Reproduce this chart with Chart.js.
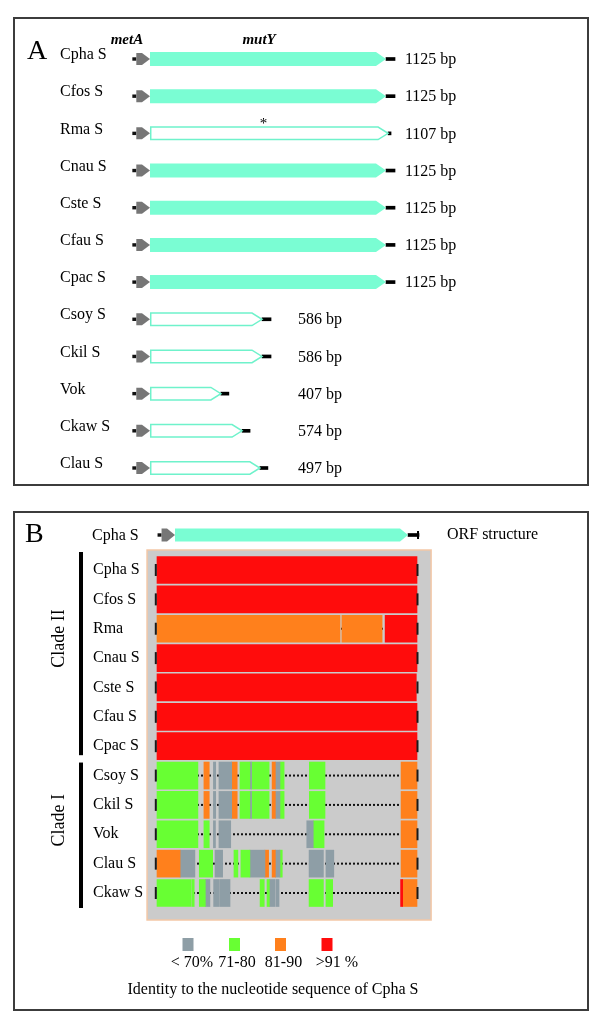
<!DOCTYPE html>
<html>
<head>
<meta charset="utf-8">
<script src="https://cdn.jsdelivr.net/npm/chart.js@4.4.1/dist/chart.umd.min.js"></script>
<style>
  html, body { margin: 0; padding: 0; background: #fff; }
  #page { position: relative; width: 600px; height: 1023px; overflow: hidden; }
  .panel { position: absolute; border: 2px solid #3c3c3c; box-sizing: border-box; }
  #panelA { left: 13px; top: 17px; width: 576px; height: 469px; }
  #panelB { left: 13px; top: 511px; width: 576px; height: 500px; }
  canvas { position: absolute; left: 0; top: 0; }
</style>
</head>
<body>
<div id="page">
  <div class="panel" id="panelA"></div>
  <div class="panel" id="panelB"></div>
  <canvas id="chartA" width="600" height="1023"></canvas>
  <canvas id="chartOrf" width="600" height="1023"></canvas>
  <canvas id="chartB" width="600" height="1023"></canvas>
</div>
<script>
/* --------------- Panel A : ORF map  --------------------- */
const rowsA = ['Cpha S', 'Cfos S', 'Rma S', 'Cnau S', 'Cste S', 'Cfau S', 'Cpac S', 'Csoy S', 'Ckil S', 'Vok', 'Ckaw S', 'Clau S'];
const mutYEnd = [1125, 1125, 1135, 1125, 1125, 1125, 1125, 534, 534, 338, 439, 524];
const tailLength = [43, 43, 14, 43, 43, 43, 43, 43, 43, 38, 38, 38];
const bpLabels = ['1125 bp', '1125 bp', '1107 bp', '1125 bp', '1125 bp', '1125 bp', '1125 bp', '586 bp', '586 bp', '407 bp', '574 bp', '497 bp'];
const mutYComplete = [true, true, false, true, true, true, true, false, false, false, false, false];
const metAStart = -65;
const stopMark = 541; // the * on Rma S

/* --------------- Panel B : ORF structure row  --------------------- */
const orfRow = ['Cpha S'];
const orfEnd = [1125];
const orfTail = [53];

/* --------------- Panel B : identity blocks [start, end, class]  --------------------- */
const rowsB = ['Cpha S', 'Cfos S', 'Rma', 'Cnau S', 'Cste S', 'Cfau S', 'Cpac S', 'Csoy S', 'Ckil S', 'Vok', 'Clau S', 'Ckaw S'];
const identityClasses = ['< 70%', '71-80', '81-90', '>91 %'];
const identityColors = ['#8e9ea6', '#68ff33', '#ff801c', '#ff0c0c'];

const segCphaS = [[0, 1125, 3]];
const segCfosS = [[0, 1125, 3]];
const segRma = [[0, 792, 2], [800, 974, 2], [987, 1125, 3]];
const segCnauS = [[0, 1125, 3]];
const segCsteS = [[0, 1122, 3]];
const segCfauS = [[0, 1125, 3]];
const segCpacS = [[0, 1125, 3]];
const segCsoyS = [[0, 177, 1], [203, 226, 2], [244, 254, 0], [268, 323, 0], [323, 347, 2], [359, 402, 1], [402, 409, 0], [410, 485, 1], [498, 512, 2], [512, 532, 0], [532, 550, 1], [659, 727, 1], [1056, 1125, 2]];
const segCkilS = [[0, 177, 1], [203, 226, 2], [244, 254, 0], [268, 323, 0], [323, 347, 2], [359, 402, 1], [402, 409, 0], [410, 485, 1], [498, 512, 2], [512, 532, 0], [532, 550, 1], [659, 727, 1], [1056, 1125, 2]];
const segVok = [[0, 177, 1], [203, 226, 1], [244, 253, 0], [268, 319, 0], [648, 676, 0], [676, 723, 1], [1056, 1125, 2]];
const segClauS = [[0, 100, 2], [100, 164, 0], [183, 241, 1], [251, 284, 0], [333, 350, 1], [363, 402, 1], [402, 467, 0], [467, 483, 2], [498, 512, 2], [512, 532, 0], [532, 542, 1], [658, 720, 0], [731, 765, 0], [1056, 1125, 2]];
const segCkawS = [[0, 146, 1], [150, 161, 1], [183, 209, 1], [209, 229, 0], [245, 268, 0], [271, 316, 0], [446, 464, 1], [476, 486, 1], [486, 511, 0], [515, 528, 0], [658, 720, 1], [731, 760, 1], [1054, 1063, 3], [1063, 1125, 2]];
const segRows = [segCphaS, segCfosS, segRma, segCnauS, segCsteS, segCfauS, segCpacS, segCsoyS, segCkilS, segVok, segClauS, segCkawS];

const cladeNames = ['Clade II', 'Clade I'];
const cladeRows = [[0, 6], [7, 11]];

/* --------------- Styles  --------------------- */
const serif = 'Liberation Serif';
const cyan = '#7afdd3';
const cyanLine = '#6ff2cb';
const metAColor = '#767676';
const none = 'rgba(0,0,0,0)';

function arrowPath(ctx, x0, x1, y, h, head) {
    const hx = Math.max(x0, x1 - head);
    ctx.beginPath();
    ctx.moveTo(x0, y - h / 2);
    ctx.lineTo(hx, y - h / 2);
    ctx.lineTo(x1, y);
    ctx.lineTo(hx, y + h / 2);
    ctx.lineTo(x0, y + h / 2);
    ctx.closePath();
}

/* --------------- Gene arrows drawn on the bar elements  --------------------- */
const geneArrows = {
    id: 'geneArrows',
    afterDatasetsDraw(chart) {
        const ctx = chart.ctx;
        ctx.save();
        chart.data.datasets.forEach((ds, d) => {
            if (!ds.gene) return;
            chart.getDatasetMeta(d).data.forEach((bar, i) => {
                const p = bar.getProps(['x', 'y', 'base', 'height'], true);
                const x0 = Math.min(p.x, p.base);
                const x1 = Math.max(p.x, p.base);
                if (ds.gene === 'metA') {
                    ctx.fillStyle = '#111';
                    ctx.fillRect(x0 - 4, p.y - 1.7, 4, 3.4);
                    arrowPath(ctx, x0, x1, p.y, p.height, 8);
                    ctx.fillStyle = metAColor;
                    ctx.fill();
                } else {
                    if (ds.complete[i]) {
                        arrowPath(ctx, x0, x1, p.y, p.height, ds.head);
                        ctx.fillStyle = cyan;
                        ctx.fill();
                    } else {
                        arrowPath(ctx, x0 + 0.75, x1, p.y, p.height - 1.5, ds.head);
                        ctx.fillStyle = '#fff';
                        ctx.fill();
                        ctx.strokeStyle = cyanLine;
                        ctx.lineWidth = 1.5;
                        ctx.stroke();
                    }
                }
            });
        });
        ctx.restore();
    }
};

/* --------------- Panel A texts  --------------------- */
const panelAText = {
    id: 'panelAText',
    afterDraw(chart) {
        const {ctx, scales: {x, y}} = chart;
        ctx.save();
        ctx.fillStyle = '#000';
        ctx.font = '28px "' + serif + '"';
        ctx.textBaseline = 'alphabetic';
        ctx.textAlign = 'left';
        ctx.fillText('A', 27, 59);

        const top = y.getPixelForValue(0) - 19;
        ctx.font = 'italic bold 15px "' + serif + '"';
        ctx.textAlign = 'center';
        ctx.textBaseline = 'middle';
        ctx.fillText('metA', x.getPixelForValue(-110), top);
        ctx.fillText('mutY', x.getPixelForValue(520), top);

        ctx.font = '16px "' + serif + '"';
        ctx.textAlign = 'left';
        bpLabels.forEach((t, i) => {
            const end = mutYEnd[i] + tailLength[i];
            const lx = end > 900 ? x.getPixelForValue(1215) : x.getPixelForValue(705);
            ctx.fillText(t, lx, y.getPixelForValue(i) + 1);
        });

        ctx.font = '15px "' + serif + '"';
        ctx.textAlign = 'center';
        ctx.fillText('*', x.getPixelForValue(stopMark), y.getPixelForValue(2) - 9);
        ctx.restore();
    }
};

let chartA = new Chart(document.getElementById('chartA'), {
    type: 'bar',
    data: {
        labels: rowsA,
        datasets: [
            { gene: 'metA', data: rowsA.map(() => [metAStart, 0]), barThickness: 12, backgroundColor: none, clip: false },
            { gene: 'mutY', head: 10, complete: mutYComplete, data: rowsA.map((r, i) => [0, mutYEnd[i]]), barThickness: 14, backgroundColor: none, clip: false },
            { data: rowsA.map((r, i) => [mutYEnd[i], mutYEnd[i] + tailLength[i]]), barThickness: 3, backgroundColor: '#000', clip: false }
        ]
    },
    options: {
        indexAxis: 'y',
        responsive: false,
        animation: false,
        layout: { padding: { left: 60, top: 59, right: 156.3, bottom: 555 } },
        datasets: { bar: { grouped: false, borderWidth: 0 } },
        plugins: { legend: { display: false }, tooltip: { enabled: false } },
        scales: {
            x: { display: false, min: -100, max: 1400 },
            y: {
                offset: false,
                grid: { display: false },
                border: { display: false },
                ticks: { color: '#000', font: { family: serif, size: 16 }, crossAlign: 'far', labelOffset: -4, padding: 0 },
                afterFit(scale) { scale.width = 69; }
            }
        }
    },
    plugins: [geneArrows, panelAText]
});

/* --------------- Panel B : ORF structure  --------------------- */
const orfText = {
    id: 'orfText',
    afterDraw(chart) {
        const {ctx, scales: {x, y}} = chart;
        const yy = y.getPixelForValue(0);
        const xe = x.getPixelForValue(orfEnd[0] + orfTail[0]);
        ctx.save();
        ctx.fillStyle = '#000';
        ctx.fillRect(xe - 2, yy - 4, 2, 8);
        ctx.font = '16px "' + serif + '"';
        ctx.textBaseline = 'middle';
        ctx.textAlign = 'left';
        ctx.fillText('ORF structure', xe + 28, yy);
        ctx.restore();
    }
};

let chartOrf = new Chart(document.getElementById('chartOrf'), {
    type: 'bar',
    data: {
        labels: orfRow,
        datasets: [
            { gene: 'metA', data: orfRow.map(() => [metAStart, 0]), barThickness: 13, backgroundColor: none, clip: false },
            { gene: 'mutY', head: 8, complete: [true], data: orfRow.map((r, i) => [0, orfEnd[i]]), barThickness: 13, backgroundColor: none, clip: false },
            { data: orfRow.map((r, i) => [orfEnd[i], orfEnd[i] + orfTail[i]]), barThickness: 3, backgroundColor: '#000', clip: false }
        ]
    },
    options: {
        indexAxis: 'y',
        responsive: false,
        animation: false,
        layout: { padding: { left: 92, top: 521, right: 135, bottom: 474 } },
        datasets: { bar: { grouped: false, borderWidth: 0 } },
        plugins: { legend: { display: false }, tooltip: { enabled: false } },
        scales: {
            x: { display: false, min: -100, max: 1400 },
            y: {
                grid: { display: false },
                border: { display: false },
                ticks: { color: '#000', font: { family: serif, size: 16 }, crossAlign: 'far', labelOffset: 1, padding: 0 },
                afterFit(scale) { scale.width = 62.3; }
            }
        }
    },
    plugins: [geneArrows, orfText]
});

/* --------------- Panel B : identity alignment  --------------------- */
const alignmentPanel = {
    id: 'alignmentPanel',
    beforeDatasetsDraw(chart) {
        const {ctx, scales: {x, y}} = chart;
        const left = x.getPixelForValue(-43);
        const right = x.getPixelForValue(1186);
        const top = y.getPixelForValue(0) - 20;
        const bottom = y.getPixelForValue(rowsB.length - 1) + 27;
        ctx.save();
        ctx.fillStyle = '#cbcbcb';
        ctx.fillRect(left, top, right - left, bottom - top);
        ctx.strokeStyle = '#f3c7a6';
        ctx.lineWidth = 1.5;
        ctx.strokeRect(left, top, right - left, bottom - top);
        // gaps in the alignment
        ctx.setLineDash([2, 2]);
        ctx.lineWidth = 2;
        ctx.strokeStyle = '#111';
        rowsB.forEach((r, i) => {
            const yy = y.getPixelForValue(i);
            ctx.beginPath();
            ctx.moveTo(x.getPixelForValue(0), yy);
            ctx.lineTo(x.getPixelForValue(1125), yy);
            ctx.stroke();
        });
        ctx.restore();
    },
    afterDatasetsDraw(chart) {
        const {ctx, scales: {x, y}} = chart;
        ctx.save();
        ctx.fillStyle = '#1a1a1a';
        rowsB.forEach((r, i) => {
            const yy = y.getPixelForValue(i);
            ctx.fillRect(x.getPixelForValue(0) - 2.2, yy - 6, 2, 12);
            ctx.fillRect(x.getPixelForValue(1125) - 0.5, yy - 6, 2, 12);
        });

        // clade bars and names
        const barX = y.left - 14;
        cladeRows.forEach((c, k) => {
            const t = y.getPixelForValue(c[0]) - (k === 0 ? 18 : 13);
            const b = y.getPixelForValue(c[1]) + (k === 0 ? 9 : 15);
            ctx.fillStyle = '#000';
            ctx.fillRect(barX, t, 4, b - t);
            ctx.save();
            ctx.translate(59, (t + b) / 2 - 15);
            ctx.rotate(-Math.PI / 2);
            ctx.font = '18px "' + serif + '"';
            ctx.textAlign = 'center';
            ctx.textBaseline = 'middle';
            ctx.fillText(cladeNames[k], 0, 0);
            ctx.restore();
        });

        // legend
        const boxX = [188, 234.5, 280.5, 327];
        const textX = [192, 237, 283.5, 337];
        ctx.font = '16px "' + serif + '"';
        ctx.textAlign = 'center';
        ctx.textBaseline = 'middle';
        identityClasses.forEach((c, k) => {
            ctx.fillStyle = identityColors[k];
            ctx.fillRect(boxX[k] - 5.5, 938, 11, 13);
            ctx.fillStyle = '#000';
            ctx.fillText(c, textX[k], 963);
        });
        ctx.fillText('Identity to the nucleotide sequence of Cpha S', 273, 990);

        ctx.font = '28px "' + serif + '"';
        ctx.textAlign = 'left';
        ctx.textBaseline = 'alphabetic';
        ctx.fillText('B', 25, 542);
        ctx.restore();
    }
};

const segmentSets = [];
segRows.forEach((segs, r) => {
    segs.forEach(s => {
        segmentSets.push({
            data: [{ y: rowsB[r], x: [s[0], s[1]] }],
            backgroundColor: identityColors[s[2]],
            barThickness: 27,
            clip: false
        });
    });
});

let chartB = new Chart(document.getElementById('chartB'), {
    type: 'bar',
    data: { labels: rowsB, datasets: segmentSets },
    options: {
        indexAxis: 'y',
        responsive: false,
        animation: false,
        layout: { padding: { left: 93, top: 570, right: 183, bottom: 130 } },
        datasets: { bar: { grouped: false, borderWidth: 0 } },
        plugins: { legend: { display: false }, tooltip: { enabled: false } },
        scales: {
            x: { display: false, min: 0, max: 1125 },
            y: {
                offset: false,
                grid: { display: false },
                border: { display: false },
                ticks: { color: '#000', font: { family: serif, size: 16 }, crossAlign: 'far', padding: 0 },
                afterFit(scale) { scale.width = 64; }
            }
        }
    },
    plugins: [alignmentPanel]
});
</script>
</body>
</html>
